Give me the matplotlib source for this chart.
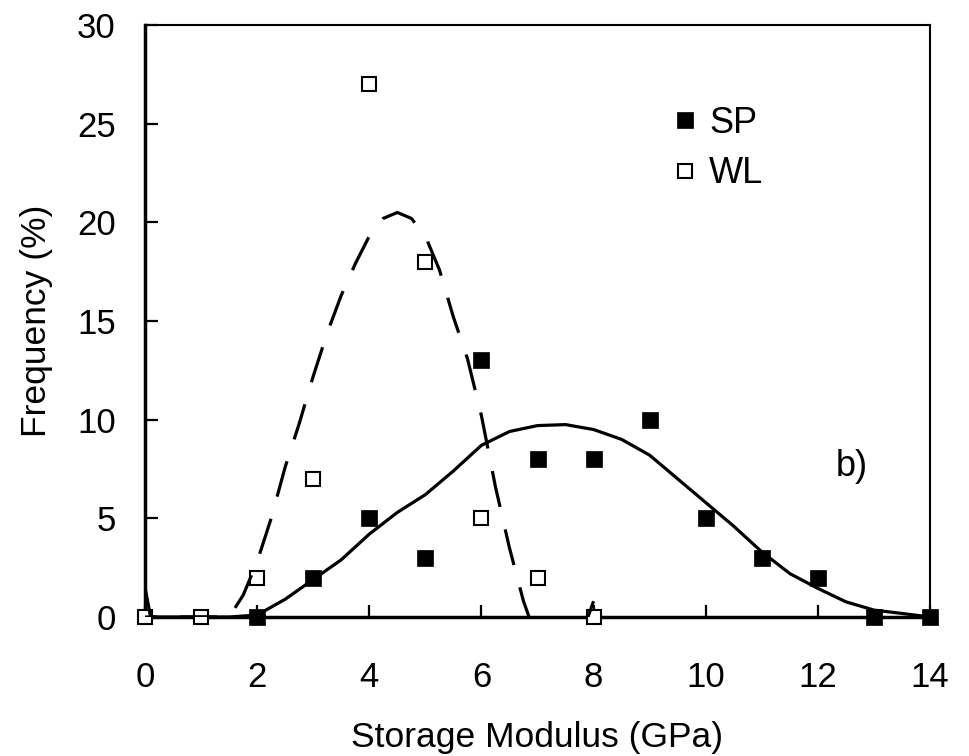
import matplotlib
matplotlib.use("Agg")
import matplotlib.pyplot as plt

plt.rcParams['font.family'] = ['Liberation Sans', 'DejaVu Sans']

# Measured frequency distributions
sp_modulus = [2, 3, 4, 5, 6, 7, 8, 9, 10, 11, 12, 13, 14]
sp_freq = [0, 2, 5, 3, 13, 8, 8, 10, 5, 3, 2, 0, 0]

wl_modulus = [0, 1, 2, 3, 4, 5, 6, 7, 8]
wl_freq = [0, 0, 2, 7, 27, 18, 5, 2, 0]

# Fitted distribution curves
sp_fit_x = [0, 1, 1.5, 2, 2.5, 3, 3.5, 4, 4.5, 5, 5.5, 6, 6.5, 7, 7.5, 8,
            8.5, 9, 9.5, 10, 10.5, 11, 11.5, 12, 12.5, 13, 13.5, 14]
sp_fit_y = [0, 0, 0, 0.1, 0.9, 1.9, 2.9, 4.2, 5.3, 6.2, 7.4, 8.7, 9.4, 9.7,
            9.75, 9.5, 9.0, 8.2, 7.0, 5.8, 4.6, 3.3, 2.2, 1.45, 0.77, 0.35,
            0.18, 0]

wl_fit_x = [0, 0.1, 1.5, 1.75, 2, 2.25, 2.5, 2.75, 3, 3.25, 3.5, 3.75, 4,
            4.25, 4.5, 4.75, 5, 5.25, 5.5, 5.75, 6, 6.25, 6.5, 6.75, 7, 7.5,
            7.9, 8]
wl_fit_y = [1.5, 0, 0, 1.1, 2.8, 5.0, 7.6, 9.8, 12.2, 14.4, 16.3, 17.9, 19.3,
            20.2, 20.5, 20.2, 19.3, 17.6, 15.2, 13.1, 10.2, 6.6, 3.5, 0.8,
            -1.2, -1.5, 0, 0.8]

x_ticks = [0, 2, 4, 6, 8, 10, 12, 14]
y_ticks = [0, 5, 10, 15, 20, 25, 30]

fig = plt.figure(figsize=(9.69, 7.56), dpi=100)
ax = fig.add_axes([145 / 969, 1 - 617 / 756, 785 / 969, 592 / 756])

sp_pts, = ax.plot(sp_modulus, sp_freq, linestyle='none', marker='s',
                  markersize=11.5, markerfacecolor='black',
                  markeredgecolor='black', markeredgewidth=0.5,
                  clip_on=False, zorder=3, label='SP')
wl_pts, = ax.plot(wl_modulus, wl_freq, linestyle='none', marker='s',
                  markersize=10, markerfacecolor='white',
                  markeredgecolor='black', markeredgewidth=1.5,
                  clip_on=False, zorder=3, label='WL')

ax.plot(sp_fit_x, sp_fit_y, color='black', linewidth=2.3,
        solid_joinstyle='round', zorder=4)
ax.plot(wl_fit_x, wl_fit_y, color='black', linewidth=2.3,
        dashes=(11.5, 7.2), zorder=4)

ax.set_xlim(0, 14)
ax.set_ylim(0, 30)
ax.set_xticks(x_ticks)
ax.set_yticks(y_ticks)
ax.tick_params(axis='both', direction='in', length=9, width=1.6,
               labelsize=25, color='black')
ax.tick_params(axis='x', pad=32)
ax.tick_params(axis='y', pad=21)

for side in ('left', 'bottom'):
    ax.spines[side].set_linewidth(2.5)
for side in ('top', 'right'):
    ax.spines[side].set_linewidth(1.5)

ax.set_xlabel('Storage Modulus (GPa)', fontsize=25.5)
ax.set_ylabel('Frequency (%)', fontsize=25.5)
ax.xaxis.set_label_coords(0.5, -0.1757)
ax.yaxis.set_label_coords(-0.1176, 0.5)

ax.text(12.61, 7.65, 'b)', fontsize=26, ha='center', va='center')

ax.legend(handles=[sp_pts, wl_pts], loc='upper left',
          bbox_to_anchor=(0.677, 0.863), frameon=False, fontsize=26,
          borderpad=0, handlelength=0.5, handletextpad=0.4,
          labelspacing=0.42, borderaxespad=0)

fig.savefig('out.png', dpi=100)
